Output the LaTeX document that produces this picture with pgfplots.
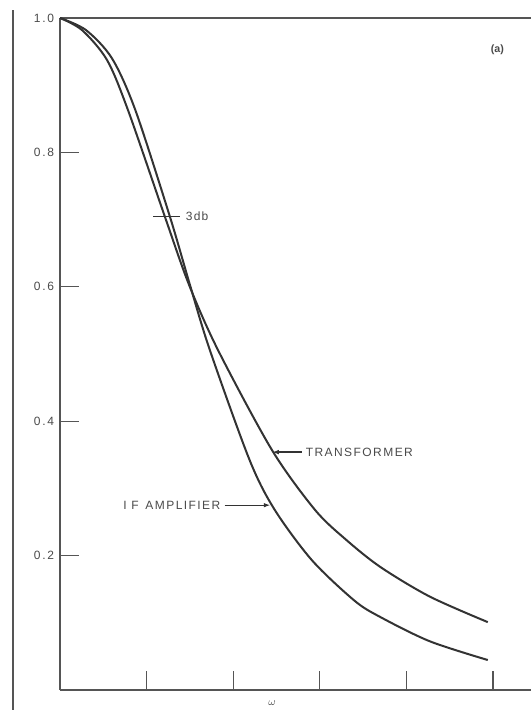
\documentclass[border=0pt]{standalone}
\usepackage{fontspec}
\setmainfont{Liberation Sans}
\usepackage{pgfplots}
\pgfplotsset{compat=1.18}
\usetikzlibrary{arrows.meta}
\definecolor{ink}{HTML}{333333}
\definecolor{axisgray}{HTML}{555555}
\definecolor{txt}{HTML}{4a4a4a}
\begin{document}
\begin{tikzpicture}[x=1pt,y=1pt]
\useasboundingbox (0,0) rectangle (398.25,532.5);
\draw[axisgray, line width=1.4pt] (9.75,0) -- (9.75,525);
\begin{axis}[
  at={(45pt,15pt)}, anchor=south west,
  scale only axis, width=353.25pt, height=504pt,
  xmin=0, xmax=5.439, ymin=0, ymax=1.0,
  axis lines=left,
  axis line style={-, axisgray, line width=1.1pt},
  tick align=inside,
  major tick length=14pt,
  tick style={axisgray, line width=1pt},
  xtick={1,2,3,4,5}, xticklabels={},
  ytick={0.2,0.4,0.6,0.8,1.0},
  yticklabels={0.2,0.4,0.6,0.8,1.0},
  yticklabel style={font=\addfontfeature{LetterSpace=14}\fontsize{9}{10}\selectfont, text=txt, xshift=-1pt},
  clip=false,
]
\draw[axisgray, line width=1.1pt] (rel axis cs:0,1) -- (rel axis cs:1,1);
% IF amplifier
\addplot[ink, line width=1.5pt, smooth, tension=0.5] coordinates {
 (0,1.0) (0.30,0.982) (0.60,0.940) (0.87,0.863) (1.27,0.704)
 (1.50,0.603) (1.73,0.506) (2.19,0.342) (2.48,0.268)
 (2.91,0.193) (3.40,0.133) (3.70,0.1085) (4.27,0.0725) (4.94,0.0446)};
% Transformer
\addplot[ink, line width=1.5pt, smooth, tension=0.5] coordinates {
 (0,1.0) (0.254,0.982) (0.543,0.9375) (0.785,0.863) (1.212,0.704)
 (1.49,0.603) (1.824,0.506) (2.448,0.357) (2.945,0.268)
 (3.30,0.224) (3.70,0.183) (4.27,0.139) (4.94,0.101)};
% 3 db marker
\draw[ink, line width=1pt] (axis cs:1.074,0.705) -- (axis cs:1.386,0.705);
\node[anchor=west, text=txt, font=\addfontfeature{LetterSpace=10}\fontsize{9}{10}\selectfont] at (axis cs:1.40,0.705) {3db};
% Transformer label
\draw[ink, line width=1pt, -{Latex[length=5pt,width=3.5pt]}] (axis cs:2.79,0.354) -- (axis cs:2.45,0.354);
\node[anchor=west, inner sep=1pt, text=txt, font=\addfontfeature{LetterSpace=12}\fontsize{9}{10}\selectfont] at (axis cs:2.82,0.354) {TRANSFORMER};
% IF amplifier label
\draw[ink, line width=1pt, -{Latex[length=5pt,width=3.5pt]}] (axis cs:1.90,0.275) -- (axis cs:2.43,0.275);
\node[anchor=east, inner sep=1pt, text=txt, font=\addfontfeature{LetterSpace=12}\fontsize{9}{10}\selectfont] at (axis cs:1.87,0.275) {I F\hspace{5pt}AMPLIFIER};
% panel label
\node[text=txt, font=\fontsize{8}{9}\selectfont\bfseries] at (axis cs:5.05,0.953) {(a)};
% axis label
\node[text=txt, font=\fontsize{8}{9}\selectfont] at (axis cs:2.45,-0.019) {$\omega$};
\end{axis}
\end{tikzpicture}
\end{document}
